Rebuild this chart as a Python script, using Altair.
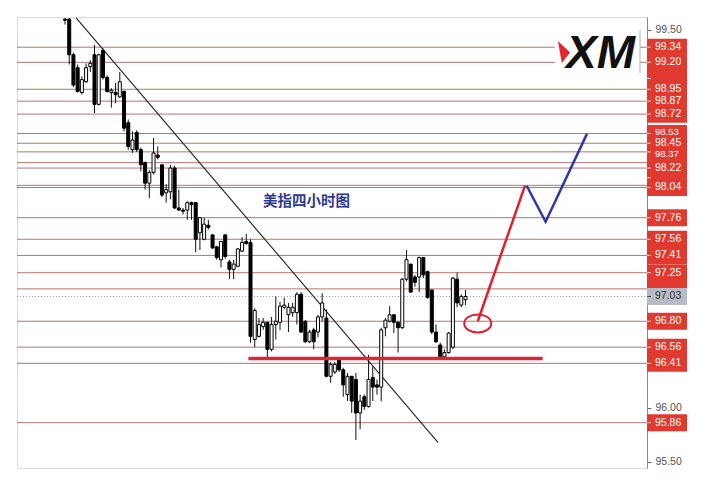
import altair as alt
import pandas as pd

# ---------------- data ----------------
opens = [99.60, 99.60, 99.27, 99.15, 98.92, 99.02, 99.16, 99.27, 98.81, 99.31,
         99.06, 98.92, 98.92, 98.88, 98.93, 98.64, 98.39, 98.55, 98.39, 98.27,
         98.08, 98.18, 98.34, 98.25, 97.99, 98.00, 98.22, 97.85, 97.83, 97.83,
         97.90, 97.90, 97.62, 97.56, 97.69, 97.60, 97.49, 97.37, 97.60, 97.35,
         97.28, 97.31, 97.45, 97.54, 97.53, 96.63, 96.66, 96.75, 96.79, 96.54,
         96.77, 96.79, 96.93, 96.86, 96.88, 96.88, 97.05, 96.80, 96.61, 96.72,
         96.70, 96.84, 96.83, 96.29, 96.33, 96.44, 96.35, 96.12, 96.29, 96.26,
         95.95, 96.10, 96.01, 96.28, 96.21, 96.19, 96.74, 96.80, 96.86, 96.79,
         96.74, 97.19, 97.33, 97.21, 97.21, 97.39, 97.26, 97.09, 96.70, 96.58,
         96.47, 96.51, 96.56, 97.19, 96.95, 97.00]
highs = [99.61, 99.61, 99.29, 99.18, 99.07, 99.19, 99.22, 99.36, 99.28, 99.33,
         99.08, 98.96, 99.01, 99.11, 98.94, 98.67, 98.56, 98.57, 98.41, 98.28,
         98.20, 98.50, 98.42, 98.25, 98.07, 98.25, 98.24, 98.02, 97.85, 97.91,
         97.91, 97.90, 97.76, 97.76, 97.74, 97.61, 97.50, 97.54, 97.61, 97.37,
         97.37, 97.48, 97.58, 97.61, 97.56, 96.92, 96.83, 96.83, 96.79, 96.84,
         97.03, 96.98, 97.02, 96.97, 96.97, 97.07, 97.07, 96.81, 96.72, 96.74,
         96.86, 97.06, 96.91, 96.42, 96.42, 96.46, 96.37, 96.32, 96.29, 96.32,
         96.12, 96.12, 96.49, 96.38, 96.26, 96.74, 96.83, 96.94, 96.86, 96.80,
         97.20, 97.46, 97.33, 97.23, 97.40, 97.39, 97.27, 97.09, 96.77, 96.60,
         96.54, 96.70, 97.21, 97.25, 97.05, 97.09]
lows = [99.55, 99.18, 98.97, 98.92, 98.90, 99.01, 99.11, 98.73, 98.80, 99.04,
        98.92, 98.78, 98.82, 98.87, 98.56, 98.39, 98.36, 98.37, 98.19, 98.02,
        97.94, 98.16, 98.30, 97.95, 97.90, 97.93, 97.84, 97.83, 97.79, 97.74,
        97.74, 97.44, 97.46, 97.55, 97.65, 97.47, 97.37, 97.30, 97.38, 97.19,
        97.19, 97.30, 97.44, 97.51, 96.60, 96.56, 96.65, 96.72, 96.46, 96.52,
        96.63, 96.72, 96.91, 96.70, 96.84, 96.77, 96.69, 96.60, 96.60, 96.54,
        96.65, 96.80, 96.28, 96.23, 96.31, 96.33, 96.10, 96.06, 95.95, 95.70,
        95.80, 95.98, 96.00, 96.06, 96.12, 96.06, 96.66, 96.79, 96.69, 96.51,
        96.73, 97.17, 97.07, 97.12, 97.07, 97.20, 97.01, 96.68, 96.60, 96.46,
        96.44, 96.50, 96.54, 96.93, 96.93, 96.95]
closes = [99.59, 99.27, 98.99, 98.93, 99.04, 99.15, 99.19, 98.81, 99.27, 99.06,
          98.93, 98.94, 98.90, 99.02, 98.59, 98.42, 98.48, 98.39, 98.25, 98.08,
          98.18, 98.36, 98.32, 97.97, 98.02, 98.22, 97.85, 97.83, 97.82, 97.90,
          97.88, 97.56, 97.76, 97.70, 97.67, 97.48, 97.39, 97.54, 97.40, 97.28,
          97.33, 97.47, 97.53, 97.52, 96.66, 96.90, 96.77, 96.79, 96.54, 96.77,
          96.80, 96.94, 96.95, 96.93, 96.93, 97.05, 96.70, 96.61, 96.70, 96.61,
          96.84, 96.97, 96.29, 96.40, 96.40, 96.35, 96.21, 96.29, 96.06, 95.95,
          96.06, 96.01, 96.26, 96.19, 96.19, 96.72, 96.81, 96.86, 96.79, 96.74,
          97.19, 97.37, 97.07, 97.16, 97.39, 97.23, 97.02, 96.70, 96.61, 96.47,
          96.51, 96.69, 97.20, 96.97, 97.03, 97.03]

line_levels = [99.34, 99.20, 98.95, 98.84, 98.72, 98.54, 98.45, 98.37, 98.27, 98.22,
               98.06, 98.04, 97.76, 97.56, 97.41, 97.25, 97.10, 96.80, 96.56, 96.41, 95.86]
# levels whose price box is shown on the right axis (some boxes have their text hidden)
box_prices = [99.34, 99.20, 99.05, 98.95, 98.84, 98.72, 98.54, 98.45, 98.37, 98.22,
              98.13, 98.04, 97.76, 97.56, 97.41, 97.25, 97.10, 96.80, 96.56, 96.41, 95.86]
# visible box texts
text_prices = [99.34, 99.20, 98.95, 98.84, 98.72, 98.45, 98.22, 98.04, 97.76,
               97.56, 97.41, 97.25, 96.80, 96.56, 96.41, 95.86]
text_labels = ["99.34", "99.20", "98.95", "98.87", "98.72", "98.45", "98.22", "98.04", "97.76",
               "97.56", "97.41", "97.25", "96.80", "96.56", "96.41", "95.86"]
upper_tight_prices = [98.54]
upper_tight_labels = ["98.53"]
lower_tight_prices = [98.37]
lower_tight_labels = ["98.37"]
current_price = 97.03
axis_ticks = [99.50, 96.00, 95.50]

trend_x = [2.64, 88.5]
trend_y = [99.611, 95.676]
support_x = [43.5, 113.3]
support_y = [96.454, 96.454]
red_path_x = [97.9, 109.1]
red_path_y = [96.80, 98.056]
blue_path_x = [109.5, 114.0, 123.8]
blue_path_y = [98.056, 97.722, 98.537]
circle_x = [97.9]
circle_y = [96.78]
note_text = "美指四小时图"
note_x = [57.3]
note_y = [97.907]

# ---------------- frames ----------------
candles = pd.DataFrame({"i": list(range(len(opens))), "open": opens, "high": highs,
                        "low": lows, "close": closes})
lines_df = pd.DataFrame({"price": line_levels})
boxes_df = pd.DataFrame({"price": box_prices})
text_df = pd.DataFrame({"price": text_prices, "label": text_labels})
up_df = pd.DataFrame({"price": upper_tight_prices, "label": upper_tight_labels})
lo_df = pd.DataFrame({"price": lower_tight_prices, "label": lower_tight_labels})
cur_df = pd.DataFrame({"price": [current_price], "label": [f"{current_price:.2f}"]})
trend_df = pd.DataFrame({"i": trend_x, "price": trend_y})
support_df = pd.DataFrame({"i": support_x, "price": support_y})
red_df = pd.DataFrame({"i": red_path_x, "price": red_path_y})
blue_df = pd.DataFrame({"i": blue_path_x, "price": blue_path_y})
circ_df = pd.DataFrame({"i": circle_x, "price": circle_y})
note_df = pd.DataFrame({"i": note_x, "price": note_y, "t": [note_text]})
one = pd.DataFrame({"a": [0]})

W, H = 630, 451
xs = alt.Scale(domain=[-10.2, 136.86], nice=False, zero=False)
ys = alt.Scale(domain=[95.44, 99.62], nice=False, zero=False)
yaxis = alt.Axis(orient="right", values=axis_ticks, format=".2f", grid=False,
                 domainColor="#8a8a8a", tickColor="#666", tickSize=4, labelPadding=4,
                 labelColor="#555", labelFont="Liberation Sans", labelFontSize=10.5, title=None)

def X(f="i"):
    return alt.X(f"{f}:Q", scale=xs, axis=None)

def Y(f="price"):
    return alt.Y(f"{f}:Q", scale=ys, axis=yaxis)

LINE_COL = "#a85a5a"
RED = "#e03a30"

lvl = alt.Chart(lines_df).mark_rule(color=LINE_COL, strokeWidth=1, opacity=0.85).encode(
    y=Y(), x=alt.value(0), x2=alt.value(W))
cur_line = alt.Chart(cur_df).mark_rule(color="#9a9a9a", strokeWidth=1, strokeDash=[1, 2]).encode(
    y=Y(), x=alt.value(0), x2=alt.value(W))

logo_bg = alt.Chart(one).mark_rect(fill="white").encode(
    x=alt.value(538), x2=alt.value(623), y=alt.value(13), y2=alt.value(57))
logo_sep = alt.Chart(one).mark_rule(color="#b0b0b0", strokeWidth=1).encode(
    x=alt.value(623), y=alt.value(13), y2=alt.value(56))
logo_tri = alt.Chart(one).mark_point(
    shape="M -0.55 -1 L 0.55 0.05 L -0.2 1 Z", size=484, filled=True, fill="#e3262b",
    strokeWidth=0, opacity=1).encode(x=alt.value(547), y=alt.value(35))
logo_txt = alt.Chart(one).mark_text(
    text="XM", font="Liberation Sans", fontSize=46, fontStyle="italic", fontWeight="bold",
    color="#111", align="left", baseline="alphabetic").encode(x=alt.value(549), y=alt.value(51))

trend = alt.Chart(trend_df).mark_line(color="#222", strokeWidth=1.1).encode(x=X(), y=Y())
wick = alt.Chart(candles).mark_rule(color="#111", strokeWidth=1).encode(
    x=X(), y=Y("low"), y2="high:Q")
body = alt.Chart(candles).mark_bar(size=3, stroke="#000", strokeWidth=1).encode(
    x=X(), y=Y("open"), y2="close:Q",
    fill=alt.condition("datum.close >= datum.open", alt.value("#ffffff"), alt.value("#000000")))

support = alt.Chart(support_df).mark_line(color="#dc2638", strokeWidth=3.5).encode(x=X(), y=Y())
red_path = alt.Chart(red_df).mark_line(color="#e0202c", strokeWidth=2.5).encode(x=X(), y=Y())
blue_path = alt.Chart(blue_df).mark_line(color="#2b3aa8", strokeWidth=2.5).encode(x=X(), y=Y())
circle = alt.Chart(circ_df).mark_point(
    shape="M -1 0 A 1 0.67 0 1 0 1 0 A 1 0.67 0 1 0 -1 0 Z", size=729, filled=False,
    stroke="#e0202c", strokeWidth=2, opacity=1).encode(x=X(), y=Y())
note = alt.Chart(note_df).mark_text(
    font="Noto Sans CJK SC", fontSize=14.5, fontWeight="bold", color="#2d3a94").encode(
    x=X(), y=Y(), text="t:N")

BOX_H = 0.079
boxes = alt.Chart(boxes_df).transform_calculate(
    lo=f"datum.price - {BOX_H}", hi=f"datum.price + {BOX_H}").mark_rect(fill=RED).encode(
    y=Y("lo"), y2="hi:Q", x=alt.value(W), x2=alt.value(W + 40))
box_ticks = alt.Chart(boxes_df).mark_rule(color="#f6cfcb", strokeWidth=1).encode(
    y=Y(), x=alt.value(W), x2=alt.value(W + 4))

txt_kw = dict(align="left", baseline="middle", font="Liberation Sans", color="white")
box_text = alt.Chart(text_df).mark_text(fontSize=10.5, **txt_kw).encode(
    y=Y(), x=alt.value(W + 8), text="label:N")
box_text_up = alt.Chart(up_df).mark_text(fontSize=9.5, dy=-1.5, **txt_kw).encode(
    y=Y(), x=alt.value(W + 8), text="label:N")
box_text_lo = alt.Chart(lo_df).mark_text(fontSize=9.5, dy=2, **txt_kw).encode(
    y=Y(), x=alt.value(W + 8), text="label:N")

cur_box = alt.Chart(cur_df).transform_calculate(
    lo=f"datum.price - {BOX_H}", hi=f"datum.price + {BOX_H}").mark_rect(fill="#b7bcc4").encode(
    y=Y("lo"), y2="hi:Q", x=alt.value(W), x2=alt.value(W + 40))
cur_tick = alt.Chart(cur_df).mark_rule(color="#444", strokeWidth=1).encode(
    y=Y(), x=alt.value(W), x2=alt.value(W + 4))
cur_text = alt.Chart(cur_df).mark_text(
    align="left", baseline="middle", font="Liberation Sans", fontSize=10.5, color="#333").encode(
    y=Y(), x=alt.value(W + 8), text="label:N")

chart = alt.layer(
    lvl, cur_line, logo_bg, logo_sep, logo_tri, logo_txt, trend, wick, body,
    support, red_path, blue_path, circle, note,
    boxes, box_ticks, box_text, box_text_up, box_text_lo, cur_box, cur_tick, cur_text
).properties(
    width=W, height=H,
    autosize=alt.AutoSizeParams(type="none"),
    padding={"left": 9, "top": 9, "right": 48, "bottom": 10},
).configure_view(strokeWidth=0).configure(background="white")

chart.save("out.html", embed_options={"renderer": "svg", "actions": False})
